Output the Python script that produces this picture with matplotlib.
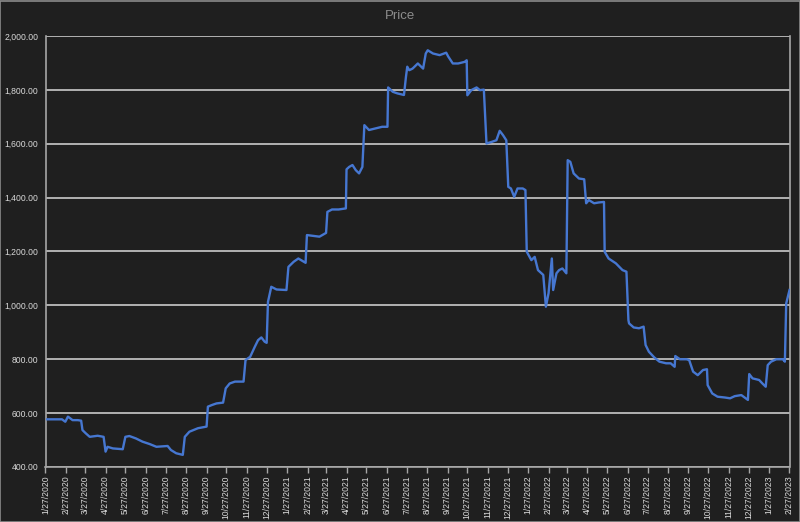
import matplotlib
matplotlib.use("Agg")
import matplotlib.pyplot as plt
import matplotlib.ticker as mticker
import pandas as pd

title = "Price"

dates = [
    "2020-01-27", "2020-02-21", "2020-02-26", "2020-03-01", "2020-03-08", "2020-03-16", "2020-03-21",
    "2020-03-23", "2020-03-28", "2020-04-03", "2020-04-15", "2020-04-24", "2020-04-27", "2020-04-30",
    "2020-05-08", "2020-05-23", "2020-05-27", "2020-06-02", "2020-06-12", "2020-06-22", "2020-07-03",
    "2020-07-13", "2020-07-30", "2020-08-04", "2020-08-12", "2020-08-22", "2020-08-25", "2020-09-01",
    "2020-09-14", "2020-09-27", "2020-09-29", "2020-10-05", "2020-10-12", "2020-10-22", "2020-10-26",
    "2020-11-01", "2020-11-09", "2020-11-22", "2020-11-25", "2020-12-02", "2020-12-09", "2020-12-14",
    "2020-12-19", "2020-12-24", "2020-12-27", "2020-12-29", "2021-01-03", "2021-01-11", "2021-01-26",
    "2021-01-29", "2021-02-06", "2021-02-13", "2021-02-24", "2021-02-26", "2021-03-08", "2021-03-17",
    "2021-03-27", "2021-03-29", "2021-04-05", "2021-04-15", "2021-04-26", "2021-04-27", "2021-05-01",
    "2021-05-06", "2021-05-11", "2021-05-16", "2021-05-21", "2021-05-24", "2021-05-31", "2021-06-10",
    "2021-06-20", "2021-06-28", "2021-06-29", "2021-07-06", "2021-07-13", "2021-07-23", "2021-07-26",
    "2021-07-28", "2021-07-31", "2021-08-05", "2021-08-13", "2021-08-21", "2021-08-25", "2021-08-28",
    "2021-09-05", "2021-09-15", "2021-09-25", "2021-09-28", "2021-10-05", "2021-10-13", "2021-10-23",
    "2021-10-26", "2021-10-27", "2021-11-02", "2021-11-10", "2021-11-15", "2021-11-21", "2021-11-25",
    "2021-12-03", "2021-12-10", "2021-12-15", "2021-12-20", "2021-12-25", "2021-12-28", "2022-01-01",
    "2022-01-06", "2022-01-11", "2022-01-19", "2022-01-23", "2022-01-25", "2022-02-01", "2022-02-06",
    "2022-02-11", "2022-02-19", "2022-02-23", "2022-02-27", "2022-03-04", "2022-03-06", "2022-03-11",
    "2022-03-15", "2022-03-20", "2022-03-26", "2022-03-28", "2022-04-01", "2022-04-06", "2022-04-14",
    "2022-04-22", "2022-04-25", "2022-04-29", "2022-05-07", "2022-05-14", "2022-05-22", "2022-05-23",
    "2022-05-29", "2022-06-09", "2022-06-19", "2022-06-25", "2022-06-28", "2022-06-29", "2022-07-06",
    "2022-07-14", "2022-07-21", "2022-07-24", "2022-07-29", "2022-08-06", "2022-08-14", "2022-08-24",
    "2022-08-31", "2022-09-06", "2022-09-07", "2022-09-14", "2022-09-24", "2022-09-28", "2022-10-04",
    "2022-10-11", "2022-10-19", "2022-10-25", "2022-10-26", "2022-11-02", "2022-11-10", "2022-11-21",
    "2022-11-29", "2022-12-06", "2022-12-16", "2022-12-21", "2022-12-26", "2022-12-28", "2023-01-02",
    "2023-01-12", "2023-01-17", "2023-01-22", "2023-01-25", "2023-01-30", "2023-02-07", "2023-02-17",
    "2023-02-20", "2023-02-22", "2023-02-27",
]

prices = [
    577, 577, 568, 587, 574, 574, 572,
    537, 525, 512, 516, 512, 457, 475,
    469, 466, 512, 515, 506, 494, 485,
    475, 478, 463, 451, 445, 512, 531,
    544, 550, 624, 630, 636, 639, 692,
    710, 717, 717, 797, 809, 846, 871,
    881, 865, 861, 1013, 1069, 1059, 1057,
    1143, 1162, 1174, 1158, 1261, 1258, 1255,
    1269, 1347, 1356, 1356, 1360, 1505, 1514,
    1521, 1502, 1490, 1514, 1669, 1651, 1657,
    1663, 1663, 1809, 1793, 1787, 1781, 1848,
    1886, 1873, 1879, 1898, 1879, 1935, 1947,
    1935, 1929, 1938, 1924, 1898, 1898, 1904,
    1910, 1780, 1799, 1809, 1799, 1801, 1601,
    1607, 1613, 1648, 1632, 1613, 1440, 1434,
    1403, 1434, 1434, 1428, 1199, 1168, 1180,
    1131, 1113, 995, 1045, 1174, 1057, 1119,
    1131, 1137, 1119, 1539, 1533, 1490, 1471,
    1468, 1379, 1391, 1379, 1382, 1384, 1199,
    1174, 1156, 1131, 1125, 945, 933, 918,
    915, 921, 853, 828, 807, 791, 785,
    785, 772, 812, 800, 800, 797, 754,
    741, 760, 763, 704, 673, 661, 658,
    655, 663, 667, 658, 649, 745, 729,
    723, 710, 698, 778, 791, 800, 800,
    791, 1007, 1057,
]

tick_dates = pd.date_range("2020-01-01", "2023-02-01", freq="MS") + pd.Timedelta(days=26)
y_ticks = [400, 600, 800, 1000, 1200, 1400, 1600, 1800, 2000]

bg = "#1f1f1f"
grid_c = "#bdbdbd"
text_c = "#d9d9d9"
line_c = "#4677D1"
lab_font = ["Liberation Sans", "DejaVu Sans"]

fig = plt.figure(figsize=(8.0, 5.22), dpi=100, facecolor=bg)
fig.patches.append(plt.Rectangle((0.0005, 0.0005), 0.999, 0.998, transform=fig.transFigure,
                                 fill=False, edgecolor="#8a8a8a", linewidth=1.2))
ax = fig.add_axes([45.5 / 800, 1 - 467 / 522, (789.5 - 45.5) / 800, (467 - 36) / 522])
ax.set_facecolor(bg)

x = pd.to_datetime(dates)
ax.plot(x, prices, color=line_c, linewidth=1.7, solid_joinstyle="round", zorder=3)

ax.set_ylim(400, 2000)
ax.set_yticks(y_ticks)
ax.yaxis.set_major_formatter(mticker.FuncFormatter(lambda v, p: f"{v:,.2f}"))
ax.set_xlim(tick_dates[0], tick_dates[-1])
ax.set_xticks(tick_dates)
ax.set_xticklabels([f"{d.month}/{d.day}/{d.year}" for d in tick_dates], rotation=90)

ax.grid(axis="y", color=grid_c, linewidth=1.3, zorder=1)
ax.grid(axis="x", visible=False)
ax.spines["top"].set_visible(False)
for s in ["left", "bottom", "right"]:
    ax.spines[s].set_color("#a6a6a6")
    ax.spines[s].set_linewidth(1.2)

ax.tick_params(axis="y", length=0, pad=5, labelsize=6.2)
ax.tick_params(axis="x", length=4, width=1, color="#a6a6a6", pad=2, labelsize=6.2)
for lab in ax.get_xticklabels() + ax.get_yticklabels():
    lab.set_family(lab_font)
    lab.set_color(text_c)

fig.text(0.5, 1 - 16 / 522, title, ha="center", va="center", color="#8c8c8c", fontsize=9.5,
         family=lab_font)

fig.savefig("out.png", dpi=100, facecolor=bg)
